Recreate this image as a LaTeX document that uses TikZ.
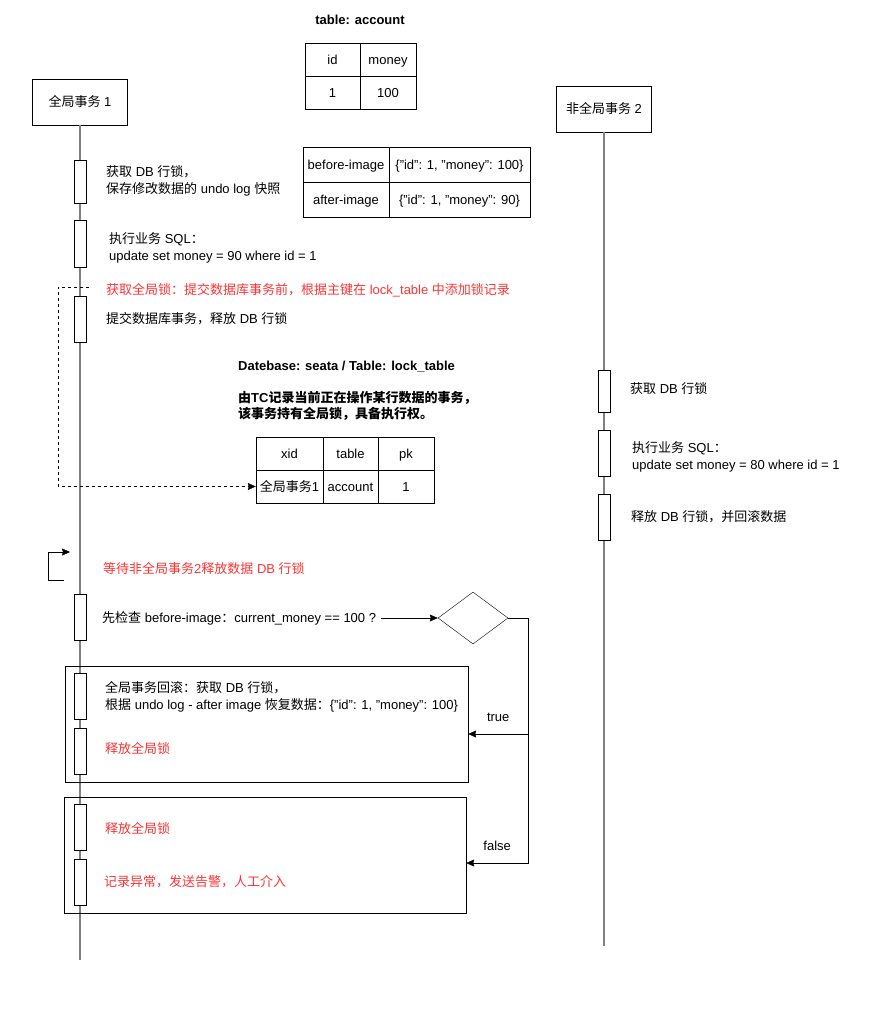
\documentclass[tikz,border=0pt]{standalone}
\usepackage{fontspec}
\setmainfont{Liberation Sans}
\newfontfamily\cjkfont{Noto Sans CJK SC}
\usetikzlibrary{shapes.geometric}
\usetikzlibrary{arrows.meta}

% Chinese runs in the CJK font
\newcommand{\zh}[1]{{\cjkfont #1}}

\definecolor{warnred}{HTML}{FF3333}

\begin{document}
\begin{tikzpicture}[x=1pt, y=-1pt,
  every node/.style={font=\fontsize{13}{16.5}\selectfont, inner sep=0pt},
  heading/.style={font=\fontsize{13}{16.5}\selectfont\bfseries},
  lifebox/.style={draw, minimum width=95pt, minimum height=46pt},
  lifeline/.style={draw=gray, line width=1.3pt},
  act/.style={draw, fill=white, minimum width=12pt, minimum height=46pt},
  note/.style={anchor=west, align=left},
  warn/.style={note, text=warnred},
  cell/.style={draw, minimum height=33pt, text height=10.5pt, text depth=1.5pt},
  grpbox/.style={draw, minimum height=116pt},
  flow/.style={-{Stealth[length=8pt, width=7pt, inset=1pt]}}
]
\useasboundingbox (0,0) rectangle (886,1009);

% table: account
\node[heading] (acctitle) at (360,20) {table: account};
\node[cell, minimum width=55pt] (acc11) at (332.5,59.5) {id};
\node[cell, minimum width=56pt] (acc12) at (388,59.5)   {money};
\node[cell, minimum width=55pt] (acc21) at (332.5,92.5) {1};
\node[cell, minimum width=56pt] (acc22) at (388,92.5)   {100};

% the two transactions
\node[lifebox] (tx1) at (80,102)  {\zh{全局事务} 1};
\node[lifebox] (tx2) at (604,109) {\zh{非全局事务} 2};
\coordinate (tx1end) at (80,960);
\coordinate (tx2end) at (604,946);
\draw[lifeline] (tx1) -- (tx1end);
\draw[lifeline] (tx2) -- (tx2end);

% global transaction 1
\node[act, minimum height=43pt] (a1) at (80,181.5) {};
\node[act, minimum height=47pt] (a2) at (80,243.5) {};
\node[act] (a3) at (80,319) {};
\node[note] (n1) at (106,181) {\zh{获取} DB \zh{行锁，}\\\zh{保存修改数据的} undo log \zh{快照}};
\node[note] (n2) at (109,248) {\zh{执行业务} SQL\zh{：}\\update set money = 90 where id = 1};
\node[warn] (n3) at (106,290) {\zh{获取全局锁：提交数据库事务前，根据主键在} lock\_table \zh{中添加锁记录}};
\node[note] (n4) at (106,319) {\zh{提交数据库事务，释放} DB \zh{行锁}};

% undo log images
\node[cell, minimum width=86pt, minimum height=35pt]  (img11) at (346,164.5)   {before-image};
\node[cell, minimum width=141pt, minimum height=35pt] (img12) at (459.5,164.5) {\{"id": 1, "money": 100\}};
\node[cell, minimum width=86pt, minimum height=35pt]  (img21) at (346,199.5)   {after-image};
\node[cell, minimum width=141pt, minimum height=35pt] (img22) at (459.5,199.5) {\{"id": 1, "money": 90\}};

% lock_table
\node[note, heading] (lkttl)  at (238,367) {Datebase: seata / Table: lock\_table};
\node[note, heading] (lkdesc) at (238,406) {\zh{由}TC\zh{记录当前正在操作某行数据的事务，}\\\zh{该事务持有全局锁，具备执行权。}};
\node[cell, minimum width=67pt] (lk11) at (289.5,453.5) {xid};
\node[cell, minimum width=55pt] (lk12) at (350.5,453.5) {table};
\node[cell, minimum width=56pt] (lk13) at (406,453.5)   {pk};
\node[cell, minimum width=67pt] (lk21) at (289.5,486.5) {\zh{全局事务}1};
\node[cell, minimum width=55pt] (lk22) at (350.5,486.5) {account};
\node[cell, minimum width=56pt] (lk23) at (406,486.5)   {1};

\coordinate (lockfrom) at (89,287);
\draw[dashed, flow] (lockfrom) -- ++(-31,0) |- (lk21.west);

% non-global transaction 2
\node[act, minimum height=42pt] (b1) at (604,391) {};
\node[act] (b2) at (604,453) {};
\node[act] (b3) at (604,517) {};
\node[note] (m1) at (630,389) {\zh{获取} DB \zh{行锁}};
\node[note] (m2) at (632,457) {\zh{执行业务} SQL\zh{：}\\update set money = 80 where id = 1};
\node[note] (m3) at (631,517) {\zh{释放} DB \zh{行锁，并回滚数据}};

% wait, then check
\coordinate (waitfrom) at (64,580);
\coordinate (waitto) at (70,552);
\draw[flow] (waitfrom) -- ++(-16,0) |- (waitto);
\node[warn] (w1) at (103,569) {\zh{等待非全局事务}2\zh{释放数据} DB \zh{行锁}};

\node[act] (a4) at (80,617) {};
\node[note] (c1) at (102,618) {\zh{先检查} before-image\zh{：}current\_money == 100 ?};
\node[draw, diamond, minimum width=70pt, minimum height=52pt] (chk) at (473,618) {};
\draw[flow, shorten <=5pt] (c1.east) -- (chk.west);

% rollback / alarm
\node[grpbox, minimum width=403pt] (rbk)   at (266.5,724) {};
\node[grpbox, minimum width=402pt] (alarm) at (265,855)   {};
\node[act] (a5) at (80,696) {};
\node[act] (a6) at (80,751) {};
\node[act] (a7) at (80,827) {};
\node[act] (a8) at (80,882) {};
\node[note] (k1) at (105,697) {\zh{全局事务回滚：获取} DB \zh{行锁，}\\\zh{根据} undo log - after image \zh{恢复数据：}\{"id": 1, "money": 100\}};
\node[warn] (k2) at (105,748) {\zh{释放全局锁}};
\node[warn] (k3) at (105,828) {\zh{释放全局锁}};
\node[warn] (k4) at (104,882) {\zh{记录异常，发送告警，人工介入}};

\draw[flow] (chk.east) -- ++(20,0) |- ([yshift=-10pt]rbk.east)
  node[pos=0.75, above=12pt] {true};
\draw[flow] (chk.east) -- ++(20,0) |- ([yshift=-8pt]alarm.east)
  node[pos=0.75, above=12pt] {false};
\end{tikzpicture}
\end{document}
